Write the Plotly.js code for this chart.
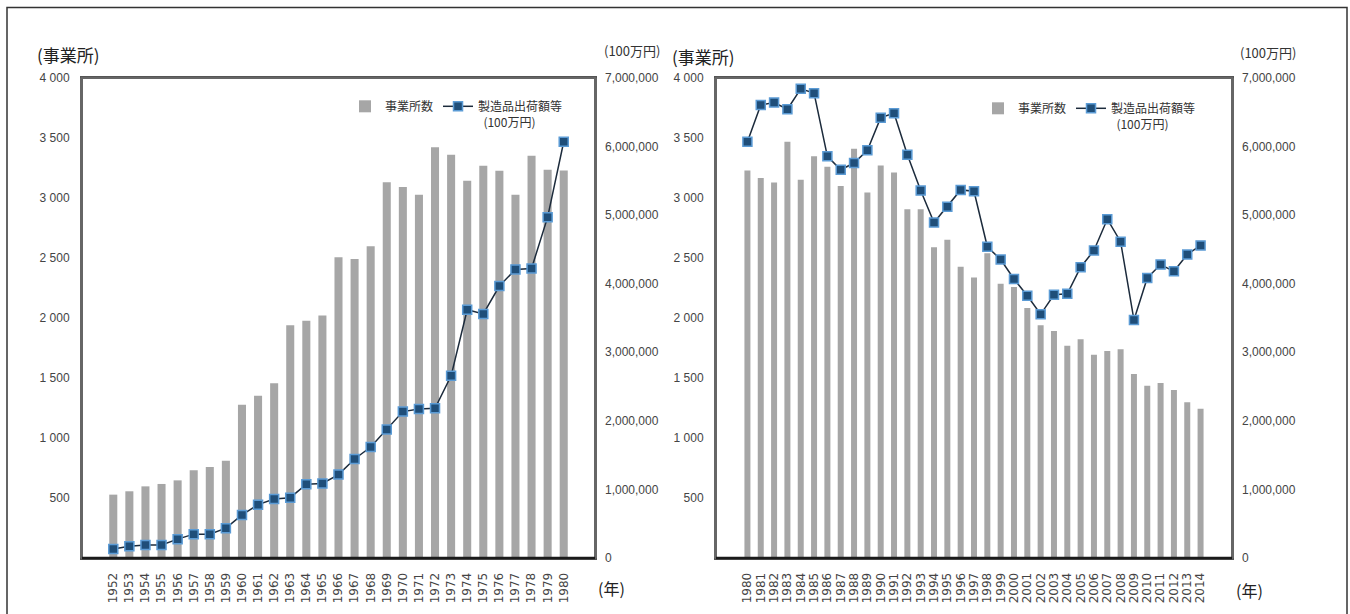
<!DOCTYPE html>
<html>
<head>
<meta charset="utf-8">
<script src="https://cdn.plot.ly/plotly-3.0.1.min.js"></script>
<style>html,body{margin:0;padding:0;background:#fff;}#chart{width:1350px;height:614px;}</style>
</head>
<body>
<div id="chart"></div>
<script>
// ---- data ----
const yearsA = ["1952","1953","1954","1955","1956","1957","1958","1959","1960","1961","1962","1963","1964","1965","1966","1967","1968","1969","1970","1971","1972","1973","1974","1975","1976","1977","1978","1979","1980"];
const estA = [528,556,597,617,647,731,758,811,1278,1353,1456,1939,1978,2020,2506,2492,2597,3131,3092,3028,3422,3361,3144,3269,3228,3028,3353,3236,3230];
const shipA = [130000,170000,190000,190000,275000,348000,348000,435000,628000,778000,860000,880000,1077000,1087000,1217000,1444000,1618000,1874000,2135000,2174000,2184000,2657000,3620000,3560000,3966000,4209000,4223000,4971000,6070000];

const yearsB = ["1980","1981","1982","1983","1984","1985","1986","1987","1988","1989","1990","1991","1992","1993","1994","1995","1996","1997","1998","1999","2000","2001","2002","2003","2004","2005","2006","2007","2008","2009","2010","2011","2012","2013","2014"];
const estB = [3230,3166,3130,3469,3152,3348,3260,3101,3410,3045,3270,3213,2907,2907,2590,2652,2427,2337,2540,2286,2258,2084,1940,1892,1768,1823,1693,1726,1740,1533,1436,1458,1400,1298,1243];
const shipB = [6070000,6608000,6642000,6544000,6843000,6779000,5858000,5662000,5760000,5946000,6422000,6485000,5882000,5358000,4892000,5123000,5368000,5348000,4539000,4353000,4069000,3824000,3554000,3838000,3853000,4240000,4485000,4941000,4613000,3471000,4083000,4279000,4181000,4426000,4559000];

const leftTickVals = [500,1000,1500,2000,2500,3000,3500,4000];
const leftTickText = ["500","1 000","1 500","2 000","2 500","3 000","3 500","4 000"];
const rightTickVals = [0,1000000,2000000,3000000,4000000,5000000,6000000,7000000];

const barName = "事業所数";
const lineName = "製造品出荷額等<br>  (100万円)";
const unitLeft = "(事業所)";
const unitRight = "(100万円)";
const unitYear = "(年)";

// ---- styles ----
const barColor = "#a6a6a6";
const lineColor = "#1c2b3c";
const markerFill = "#1f4e79";
const markerLine = "#5b9bd5";
const tickFont = {family: "Liberation Sans, Arial, sans-serif", size: 12, color: "#444"};
const yearFont = {family: "DejaVu Sans, sans-serif", size: 12, color: "#444"};
const cjk = "Noto Sans CJK JP, sans-serif";

const W = 1350, H = 614;
const px = v => v / W;
const py = v => (H - v) / H;

const traces = [
  {type: "bar", x: yearsA, y: estA, name: barName, xaxis: "x", yaxis: "y",
   marker: {color: barColor}, width: 0.5, legend: "legend"},
  {type: "scatter", mode: "lines+markers", x: yearsA, y: shipA, name: lineName, xaxis: "x", yaxis: "y2",
   line: {color: lineColor, width: 1.5},
   marker: {symbol: "square", size: 9, color: markerFill, line: {color: markerLine, width: 1.5}},
   legend: "legend"},
  {type: "bar", x: yearsB, y: estB, name: barName, xaxis: "x2", yaxis: "y3",
   marker: {color: barColor}, width: 0.45, legend: "legend2"},
  {type: "scatter", mode: "lines+markers", x: yearsB, y: shipB, name: lineName, xaxis: "x2", yaxis: "y4",
   line: {color: lineColor, width: 1.5},
   marker: {symbol: "square", size: 9, color: markerFill, line: {color: markerLine, width: 1.5}},
   legend: "legend2"}
];

const ydom = [py(558), py(78)];
const xAxisCommon = {type: "category", tickangle: -90, tickfont: yearFont, showline: true, mirror: true,
  linecolor: "#555", linewidth: 2, ticks: "", showgrid: false, zeroline: false, fixedrange: true,
  dtick: 1, ticklabelstandoff: 8};
const yLeftCommon = {range: [0, 4000], tickvals: leftTickVals, ticktext: leftTickText, tickfont: tickFont,
  showgrid: false, zeroline: false, showline: true, mirror: true, linecolor: "#666", linewidth: 2,
  ticks: "", ticklabelstandoff: 8};
const yRightCommon = {range: [0, 7000000], tickvals: rightTickVals, tickformat: ",d", tickfont: tickFont,
  showgrid: false, zeroline: false, showline: false, ticks: "", side: "right", ticklabelstandoff: 9};

const legendCommon = {orientation: "h", xanchor: "left", yanchor: "top", valign: "top",
  font: {family: cjk, size: 12, color: "#333"}, bgcolor: "rgba(0,0,0,0)", itemwidth: 30,
  tracegroupgap: 0};

const xdomA = [px(82), px(595)];
const xdomB = [px(716), px(1232)];

function boxShapes(xd) {
  return [
    {type: "rect", xref: "paper", yref: "paper", x0: xd[0], x1: xd[1], y0: ydom[0], y1: ydom[1],
     line: {color: "#666", width: 2}, fillcolor: "rgba(0,0,0,0)", layer: "above"},
    {type: "line", xref: "paper", yref: "paper", x0: xd[0], x1: xd[1], y0: ydom[0], y1: ydom[0],
     line: {color: "#1a1a1a", width: 2.5}, layer: "above"}
  ];
}

const layout = {
  width: W, height: H,
  margin: {l: 0, r: 0, t: 0, b: 0},
  paper_bgcolor: "#fff", plot_bgcolor: "rgba(0,0,0,0)",
  showlegend: true,
  barmode: "group",
  xaxis: Object.assign({}, xAxisCommon, {domain: xdomA, anchor: "y"}),
  yaxis: Object.assign({}, yLeftCommon, {domain: ydom, anchor: "x"}),
  yaxis2: Object.assign({}, yRightCommon, {domain: ydom, anchor: "x", overlaying: "y"}),
  xaxis2: Object.assign({}, xAxisCommon, {domain: xdomB, anchor: "y3"}),
  yaxis3: Object.assign({}, yLeftCommon, {domain: ydom, anchor: "x2"}),
  yaxis4: Object.assign({}, yRightCommon, {domain: ydom, anchor: "x2", overlaying: "y3"}),
  legend: Object.assign({}, legendCommon, {x: px(345), y: py(92)}),
  legend2: Object.assign({}, legendCommon, {x: px(978), y: py(94)}),
  shapes: [
    {type: "rect", xref: "paper", yref: "paper", x0: px(7), x1: px(1347), y0: -0.05, y1: py(7.5),
     line: {color: "#333", width: 1.5}, layer: "below"}
  ].concat(boxShapes(xdomA), boxShapes(xdomB)),
  annotations: [
    {text: unitLeft, xref: "paper", yref: "paper", x: px(35), y: py(54), xanchor: "left", yanchor: "middle",
     showarrow: false, font: {family: cjk, size: 17, color: "#222"}},
    {text: unitLeft, xref: "paper", yref: "paper", x: px(670), y: py(56), xanchor: "left", yanchor: "middle",
     showarrow: false, font: {family: cjk, size: 17, color: "#222"}},
    {text: unitRight, xref: "paper", yref: "paper", x: px(632), y: py(50), xanchor: "center", yanchor: "middle",
     showarrow: false, font: {family: cjk, size: 13, color: "#333"}},
    {text: unitRight, xref: "paper", yref: "paper", x: px(1268), y: py(52), xanchor: "center", yanchor: "middle",
     showarrow: false, font: {family: cjk, size: 13, color: "#333"}},
    {text: unitYear, xref: "paper", yref: "paper", x: px(596), y: py(588), xanchor: "left", yanchor: "middle",
     showarrow: false, font: {family: cjk, size: 16, color: "#222"}},
    {text: unitYear, xref: "paper", yref: "paper", x: px(1234), y: py(590), xanchor: "left", yanchor: "middle",
     showarrow: false, font: {family: cjk, size: 16, color: "#222"}}
  ]
};

Plotly.newPlot("chart", traces, layout, {displayModeBar: false, staticPlot: true});
</script>
</body>
</html>
